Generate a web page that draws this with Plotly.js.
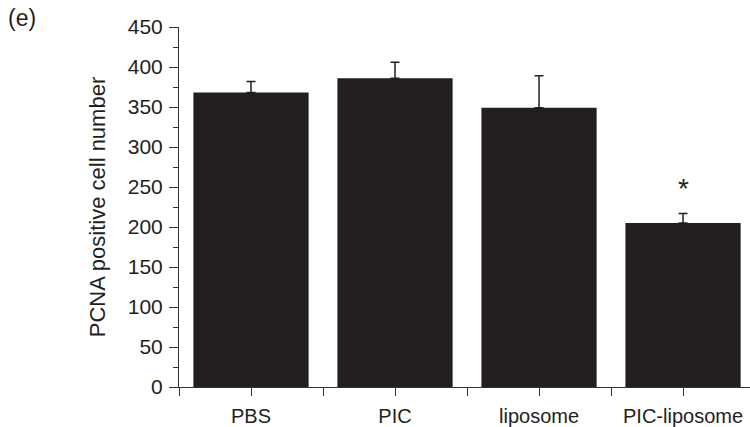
<!DOCTYPE html>
<html>
<head>
<meta charset="utf-8">
<script src="https://cdn.plot.ly/plotly-3.0.1.min.js"></script>
<style>html,body{margin:0;padding:0;background:#fff;}#chart{width:750px;height:427px;}</style>
</head>
<body>
<div id="chart"></div>
<script>
const categories = ["PBS", "PIC", "liposome", "PIC-liposome"];
const values = [368, 386, 349, 205];
const errors = [14, 20, 40, 12];
const yTickVals = [0, 50, 100, 150, 200, 250, 300, 350, 400, 450];
const significance = ["", "", "", "*"];
const sigY = [0, 0, 0, 248];

const xIdx = categories.map((c, i) => i);
const dark = "#231f20";
const fontFam = "Liberation Sans, Arial, Helvetica, sans-serif";

const traces = [{
  type: "bar",
  x: xIdx,
  y: values,
  width: 0.8,
  marker: {color: dark, line: {width: 0}},
  error_y: {
    type: "data",
    symmetric: false,
    array: errors,
    arrayminus: errors.map(() => 0),
    color: dark,
    thickness: 1.5,
    width: 4.5
  },
  hoverinfo: "skip"
}];

const annotations = [];
significance.forEach((s, i) => {
  if (s) annotations.push({x: i, y: sigY[i], text: s, showarrow: false, xref: "x", yref: "y",
    font: {family: fontFam, size: 28, color: dark}});
});
annotations.push({xref: "paper", yref: "paper", x: -179/571, y: 1, xanchor: "left", yanchor: "top",
  yshift: 24, xshift: 6, text: "(e)", showarrow: false, font: {family: fontFam, size: 23, color: dark}});

const layout = {
  width: 750, height: 427,
  margin: {l: 179, r: 0, t: 27, b: 40, pad: 0},
  paper_bgcolor: "#fff", plot_bgcolor: "#fff",
  showlegend: false,
  font: {family: fontFam, size: 21, color: dark},
  xaxis: {
    range: [-0.5, 3.465],
    tickvals: xIdx, ticktext: categories,
    ticks: "outside", ticklen: 8, tickwidth: 1, tickcolor: "#333",
    showline: true, linecolor: "#333", linewidth: 1,
    showgrid: false, zeroline: false,
    ticklabelstandoff: 3,
    tickfont: {size: 20, color: dark},
    minor: {tickvals: [-0.5, 0.5, 1.5, 2.5], ticks: "outside", ticklen: 8, tickwidth: 1, tickcolor: "#333", showgrid: false},
    fixedrange: true
  },
  yaxis: {
    range: [0, 450],
    tickvals: yTickVals,
    ticks: "outside", ticklen: 9, tickwidth: 1, tickcolor: "#333",
    showline: true, linecolor: "#333", linewidth: 1,
    showgrid: false, zeroline: false,
    ticklabelstandoff: 2,
    tickfont: {size: 21, color: dark},
    minor: {dtick: 25, tick0: 0, ticks: "outside", ticklen: 5, tickwidth: 1, tickcolor: "#333", showgrid: false},
    title: {text: "PCNA positive cell number", font: {size: 22, color: dark}, standoff: 16},
    fixedrange: true
  },
  annotations: annotations
};

Plotly.newPlot("chart", traces, layout, {displayModeBar: false, staticPlot: true});
</script>
</body>
</html>
